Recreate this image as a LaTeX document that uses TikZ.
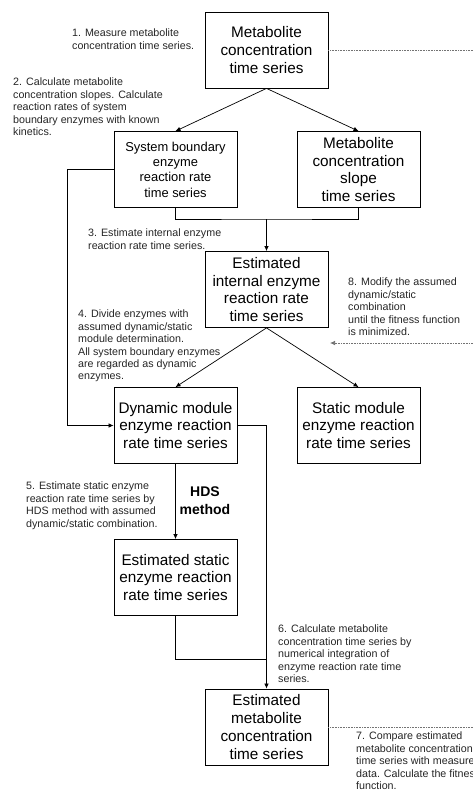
\documentclass[tikz,border=0pt]{standalone}
\usepackage{fontspec}
\setmainfont{Liberation Sans}
\usetikzlibrary{arrows.meta}
\begin{document}
\begin{tikzpicture}[x=1pt,y=-1pt,
 box/.style={draw, line width=0.8pt, minimum width=123pt, minimum height=76pt, inner sep=0pt, align=center, font=\fontsize{15.3}{17.7}\selectfont},
 note/.style={anchor=north west, inner sep=0pt, align=left, text=black!85, font=\fontsize{10.7}{12.4}\selectfont},
 conn/.style={line width=0.7pt, draw=black},
 arr/.style={conn, -{Latex[length=5pt,width=4.5pt]}},
 fb/.style={draw=black!55, line width=0.7pt, dash pattern=on 0.8pt off 0.8pt}]
\useasboundingbox[fill=white] (0,0) rectangle (473,790);
% boxes
\node[box] (b1) at (266.5,50) {Metabolite\\concentration\\time series};
\node[box, font=\fontsize{12.9}{15.3}\selectfont] (b2) at (175.5,169.5) {System boundary\\enzyme\\reaction rate\\time series};
\node[box] (b3) at (358.5,169.5) {Metabolite\\concentration\\slope\\time series};
\node[box] (b4) at (266.5,289.5) {Estimated\\internal enzyme\\reaction rate\\time series};
\node[box] (b5) at (175.5,425.5) {Dynamic module\\enzyme reaction\\rate time series};
\node[box] (b6) at (358.5,425.5) {Static module\\enzyme reaction\\rate time series};
\node[box] (b7) at (175.5,577.5) {Estimated static\\enzyme reaction\\rate time series};
\node[box] (b8) at (266.5,727) {Estimated\\metabolite\\concentration\\time series};
% helper coordinates
\coordinate (j1) at (266.5,219);
\coordinate (j2) at (266.5,659);
\coordinate (r1) at (473,50);
\coordinate (r2) at (473,343);
\coordinate (r3) at (473,727);
\coordinate (t2) at (330,343);
% connectors
\draw[arr] (b1.south) -- (b2.north);
\draw[arr] (b1.south) -- (b3.north);
\draw[conn] (b2.south) |- (j1) -| (b3.south);
\draw[arr] (j1) -- (b4.north);
\draw[arr] (b2.west) -- ++(-46,0) |- (b5.west);
\draw[arr] (b4.south) -- (b5.north);
\draw[arr] (b4.south) -- (b6.north);
\draw[arr] (b5.south) -- (b7.north);
\draw[arr] (b5.east) -| (b8.north);
\draw[conn] (b7.south) |- (j2);
\draw[fb] (b1.east) -- (r1);
\draw[fb, -{Latex[length=5pt,width=4.5pt]}] (r2) -- (t2);
\draw[fb] (b8.east) -- (r3);
% notes
\node[note] (n1) at (72,29) {1. Measure metabolite\\concentration time series.};
\node[note] (n2) at (13,78) {2. Calculate metabolite\\concentration slopes. Calculate\\reaction rates of system\\boundary enzymes with known\\kinetics.};
\node[note] (n3) at (88,229) {3. Estimate internal enzyme\\reaction rate time series.};
\node[note] (n8) at (348,278) {8. Modify the assumed\\dynamic/static\\combination\\until the fitness function\\is minimized.};
\node[note] (n4) at (78,310) {4. Divide enzymes with\\assumed dynamic/static\\module determination.\\All system boundary enzymes\\are regarded as dynamic\\enzymes.};
\node[note] (n5) at (26,482) {5. Estimate static enzyme\\reaction rate time series by\\HDS method with assumed\\dynamic/static combination.};
\node[note] (n6) at (278,625) {6. Calculate metabolite\\concentration time series by\\numerical integration of\\enzyme reaction rate time\\series.};
\node[note] (n7) at (356,732) {7. Compare estimated\\metabolite concentration\\time series with measured\\data. Calculate the fitness\\function.};
\node[anchor=north, inner sep=0pt, align=center, font=\bfseries\fontsize{14}{17.7}\selectfont] (hds) at (205,487) {HDS\\method};
\end{tikzpicture}
\end{document}
